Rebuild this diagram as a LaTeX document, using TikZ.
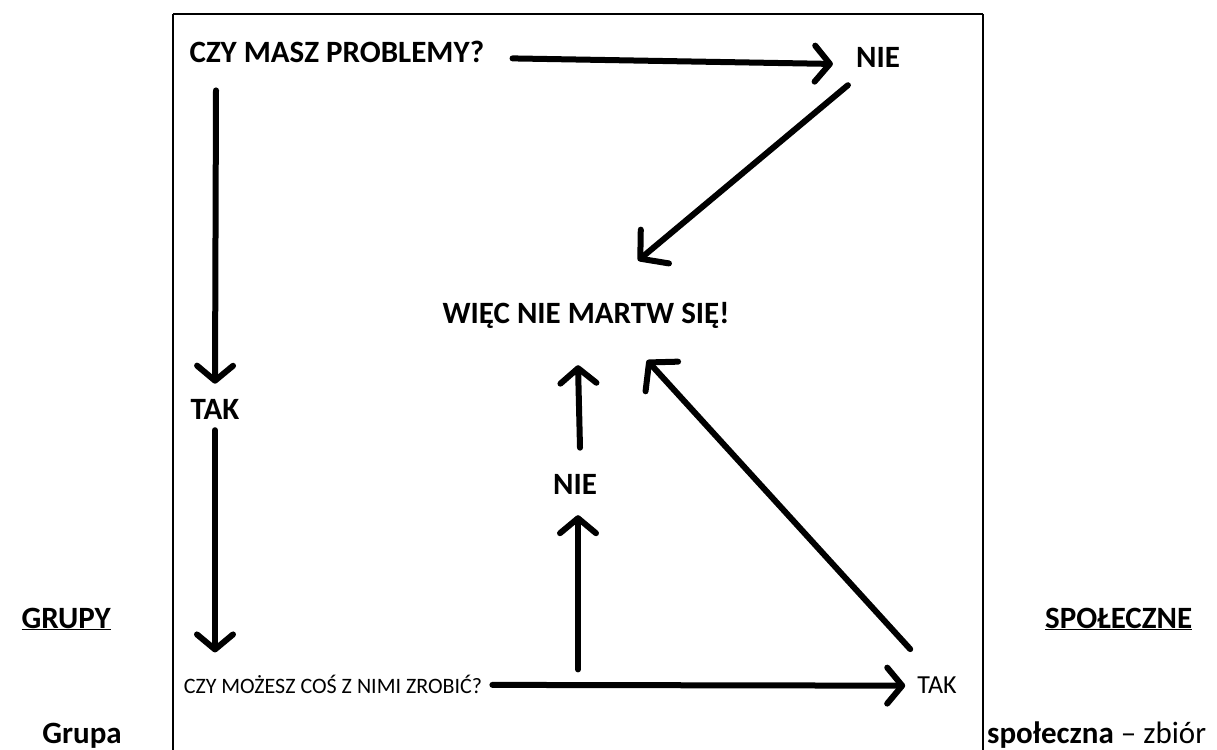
\documentclass[tikz,border=0pt]{standalone}
\usepackage{fontspec}
\setmainfont{Carlito}
\usetikzlibrary{arrows.meta,calc}

\tikzset{
  bigtxt/.style={inner sep=0pt, anchor=base, font=\fontsize{31}{34}\selectfont\bfseries},
  smalltxt/.style={inner sep=0pt, anchor=base, font=\fontsize{22}{25}\selectfont},
  sidetxt/.style={inner sep=0pt, font=\fontsize{31}{34}\selectfont},
  arr/.style={line width=6pt, line cap=round, line join=round,
    -{Straight Barb[length=15pt,width=36pt,line cap=round,line join=round]}},
  darr/.style={arr, -{Straight Barb[length=19pt,width=44pt,line cap=round,line join=round]}},
}

\begin{document}
\begin{tikzpicture}[x=1pt,y=-1pt]
\useasboundingbox (0,0) rectangle (1217,749);
\fill[white] (0,0) rectangle (1217,749);
\draw[line width=2pt] (173,14) -- (983,14) (173,14) -- (173,760) (983,14) -- (983,760);

\node[bigtxt] (ask) at (337,63) {CZY MASZ PROBLEMY?};
\node[bigtxt] (noA) at (878,68) {NIE};
\node[bigtxt] (calm) at (586,323) {WIĘC NIE MARTW SIĘ!};
\node[bigtxt] (yesA) at (215,419) {TAK};
\node[bigtxt] (noB) at (575,494) {NIE};
\node[smalltxt] (canfix) at (333,693) {CZY MOŻESZ COŚ Z NIMI ZROBIĆ?};
\node[smalltxt, font=\fontsize{26}{28}\selectfont] (yesB) at (937,693) {TAK};

\draw[arr] ($(ask.east)+(28,6)$) -- ($(noA.west)+(-23,6)$);
\draw[arr] ($(yesA.north |- ask.south)+(1,27)$) -- ($(yesA.north)+(0,-15)$);
\draw[arr] ($(yesA.south)+(0,11)$) -- ($(yesA.south |- canfix.north)+(0,-22)$);
\draw[arr] ($(canfix.east)+(10,1)$) -- ($(yesB.west)+(-12,1)$);
\draw[arr] ($(noB.south |- canfix.north)+(3,-5)$) -- ($(noB.south)+(3,21)$);
\draw[arr] ($(noB.north)+(5,-26)$) -- ($(calm.south)+(-8,37)$);
\draw[darr] ($(noA.south west)+(-8,17)$) -- ($(calm.north)+(52,-41)$);
\draw[darr] ($(yesB.north west)+(-7,-27)$) -- ($(calm.south)+(61,32)$);

\node[sidetxt, anchor=base east] (title1) at (111,628) {\textbf{\underline{GRUPY}}};
\node[sidetxt, anchor=base west] (title2) at (1045,628) {\textbf{\underline{SPOŁECZNE}}};
\node[sidetxt, anchor=base east] (word1) at (122,743) {\textbf{Grupa}};
\node[sidetxt, anchor=base west] (word2) at (987,743) {\textbf{społeczna} – zbiór};
\end{tikzpicture}
\end{document}
